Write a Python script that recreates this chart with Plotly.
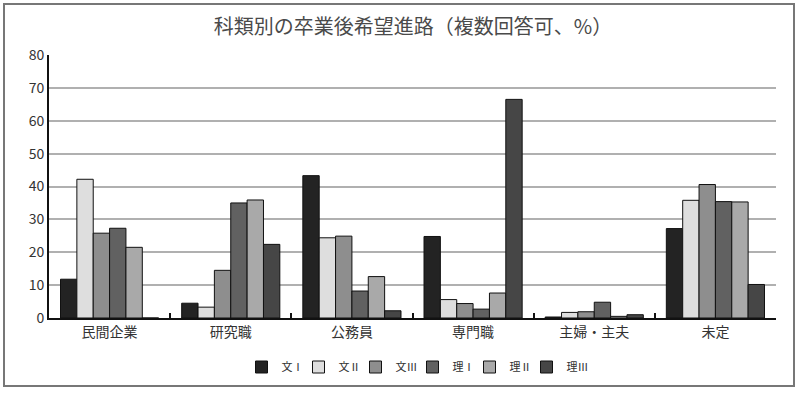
import plotly.graph_objects as go

categories = ["民間企業", "研究職", "公務員", "専門職", "主婦・主夫", "未定"]
series_names = ["文Ⅰ", "文Ⅱ", "文Ⅲ", "理Ⅰ", "理Ⅱ", "理Ⅲ"]
bun1 = [11.8, 4.5, 43.3, 24.8, 0.3, 27.2]
bun2 = [42.2, 3.3, 24.4, 5.6, 1.7, 35.8]
bun3 = [25.8, 14.5, 24.9, 4.4, 1.9, 40.6]
ri1 = [27.3, 35.0, 8.2, 2.7, 4.8, 35.4]
ri2 = [21.5, 35.9, 12.6, 7.6, 0.5, 35.3]
ri3 = [0.0, 22.4, 2.2, 66.5, 1.0, 10.2]
y_ticks = [0, 10, 20, 30, 40, 50, 60, 70, 80]

values = [bun1, bun2, bun3, ri1, ri2, ri3]
colors = ["#232323", "#dedede", "#8e8e8e", "#616161", "#a9a9a9", "#464646"]

FONT = "Noto Sans CJK JP"

fig = go.Figure()
for name, vals, col in zip(series_names, values, colors):
    fig.add_trace(go.Bar(
        x=categories, y=vals, name=name,
        marker=dict(color=col, line=dict(color="#111111", width=1)),
    ))

# invisible spacer legend entry so the last legend label is not clipped
fig.add_trace(go.Scatter(x=[None], y=[None], name="", mode="markers",
                         marker=dict(color="rgba(0,0,0,0)", size=1),
                         hoverinfo="skip", showlegend=True))

W, H = 800, 393
L, R, T, B = 49, 24, 55, 75
pw = W - L - R
ph = H - T - B

def px2paper_x(px):
    return (px - L) / pw

def px2paper_y(py):
    return (H - B - py) / ph

fig.update_layout(
    width=W, height=H,
    margin=dict(l=L, r=R, t=T, b=B, autoexpand=False),
    paper_bgcolor="white", plot_bgcolor="white",
    barmode="group", bargap=0.19, bargroupgap=0,
    font=dict(family=FONT, color="#333333"),
    title=dict(text="科類別の卒業後希望進路（複数回答可、%）",
               x=413 / W, xanchor="center", y=1 - 27 / H, yanchor="middle",
               font=dict(size=20, color="#4a4a4a", family=FONT)),
    xaxis=dict(showline=True, linecolor="#111111", linewidth=2,
               ticks="inside", tickson="boundaries", ticklen=5, tickcolor="#111111",
               tickwidth=2, tickfont=dict(size=14, color="#333333"),
               showgrid=False, automargin=False),
    yaxis=dict(range=[0, 80], tickvals=y_ticks, showline=True, linecolor="#111111",
               linewidth=2, ticks="", showgrid=True, gridcolor="#b0b0b0", gridwidth=1.5,
               zeroline=False, tickfont=dict(size=14, color="#333333"), automargin=False),
    legend=dict(orientation="h", x=(441 - L) / pw, xanchor="center", y=px2paper_y(367), yanchor="middle",
                font=dict(size=11, color="#333333"), itemwidth=30,
                entrywidth=12, entrywidthmode="pixels"),
    shapes=[dict(type="rect", xref="paper", yref="paper",
                 x0=px2paper_x(4), x1=px2paper_x(794), y0=px2paper_y(386), y1=px2paper_y(4),
                 line=dict(color="#777777", width=2), layer="below")],
)

fig.write_html("out.html", config={"displayModeBar": False},
               post_script="document.body.style.margin='0';")
